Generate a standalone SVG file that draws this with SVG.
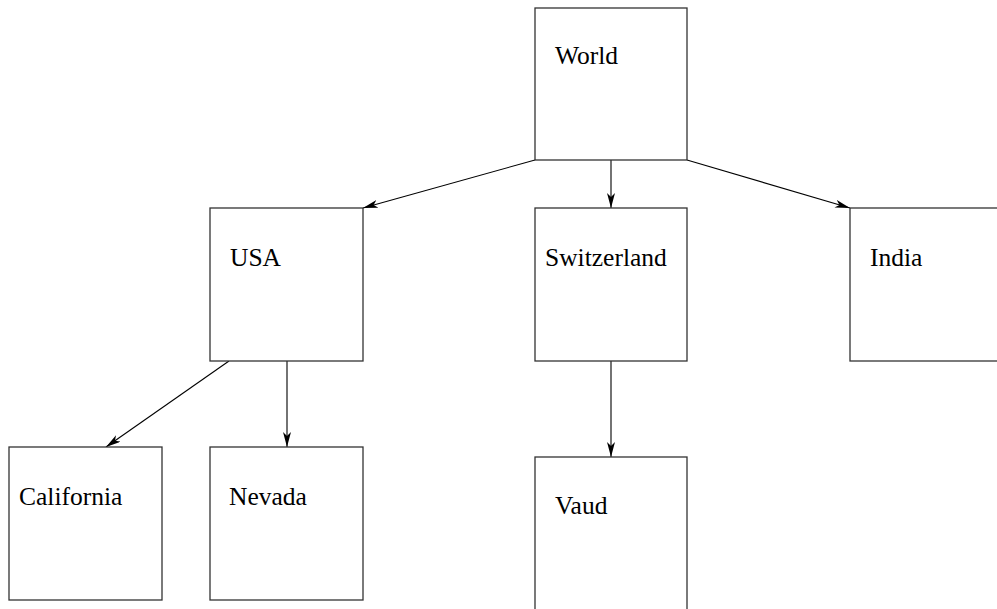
<svg xmlns="http://www.w3.org/2000/svg" width="997" height="609" viewBox="0 0 997 609">
<defs>
<style>
.box{fill:#fff;stroke:#333;stroke-width:1.3}
.lbl{font-family:"Liberation Serif","Times New Roman",serif;font-size:25.5px;fill:#000}
.edge{stroke:#000;stroke-width:1.1;fill:none;marker-end:url(#ah)}
</style>
<marker id="ah" viewBox="0 0 15 8" refX="15" refY="4" markerWidth="15" markerHeight="8" markerUnits="userSpaceOnUse" orient="auto">
<path d="M0,0 L15,4 L0,8 L4,4 Z" fill="#000"/>
</marker>
</defs>
<rect width="997" height="609" fill="#fff"/>
<g id="connectors">
<line class="edge" x1="535" y1="160" x2="363" y2="208"/>
<line class="edge" x1="611" y1="160" x2="611" y2="208"/>
<line class="edge" x1="687" y1="160" x2="850" y2="208"/>
<line class="edge" x1="229" y1="361" x2="106" y2="447"/>
<line class="edge" x1="287" y1="361" x2="287" y2="447"/>
<line class="edge" x1="611" y1="361" x2="611" y2="457"/>
</g>
<g id="world"><rect class="box" x="535" y="8" width="152" height="152"/><text class="lbl" x="555" y="64">World</text></g>
<g id="usa"><rect class="box" x="210" y="208" width="153" height="153"/><text class="lbl" x="230" y="266">USA</text></g>
<g id="switzerland"><rect class="box" x="535" y="208" width="152" height="153"/><text class="lbl" x="545" y="266">Switzerland</text></g>
<g id="india"><rect class="box" x="850" y="208" width="153" height="153"/><text class="lbl" x="870" y="266">India</text></g>
<g id="california"><rect class="box" x="9" y="447" width="153" height="153"/><text class="lbl" x="19" y="505">California</text></g>
<g id="nevada"><rect class="box" x="210" y="447" width="153" height="153"/><text class="lbl" x="229" y="505">Nevada</text></g>
<g id="vaud"><rect class="box" x="535" y="457" width="152" height="153"/><text class="lbl" x="555" y="514">Vaud</text></g>
</svg>
